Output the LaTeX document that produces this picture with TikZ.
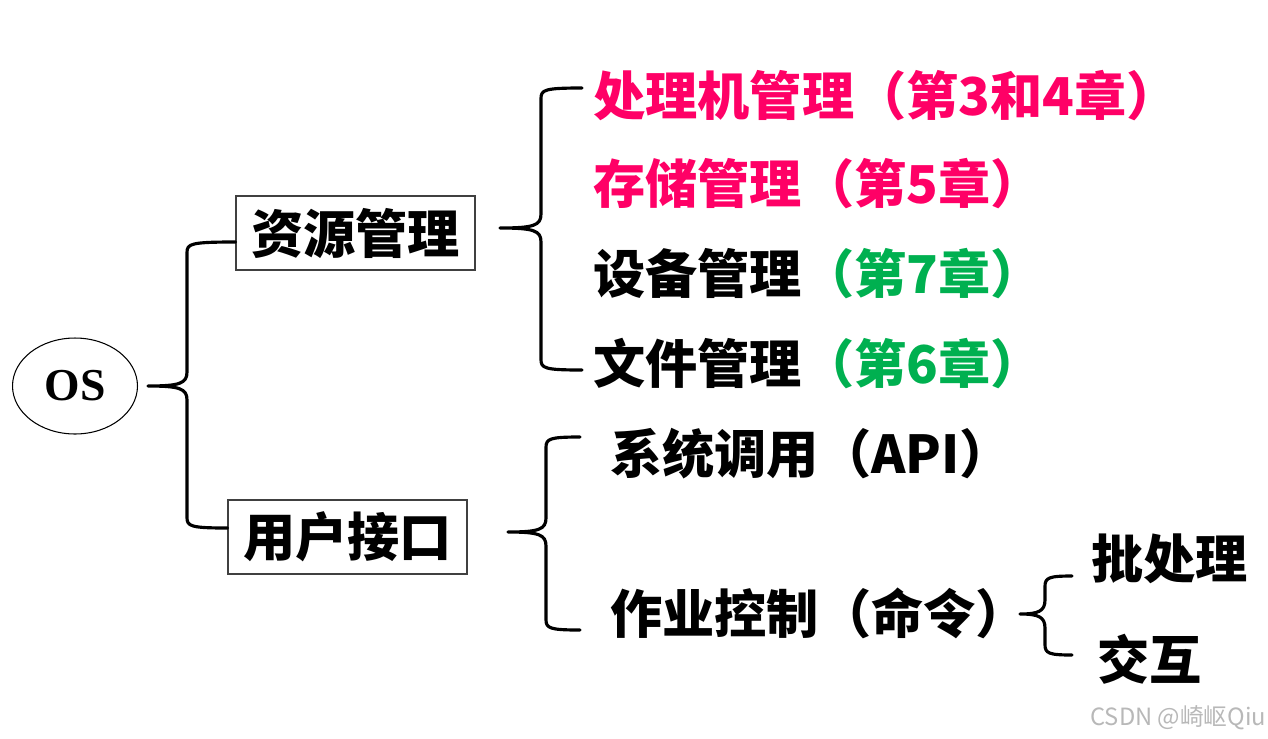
\documentclass[tikz,border=0pt]{standalone}
\usepackage{fontspec}
\setmainfont{Liberation Serif}
\newfontfamily\cjk{Noto Sans CJK SC}
\usetikzlibrary{calc,shapes.geometric}
\definecolor{mag}{RGB}{255,0,102}
\definecolor{grn}{RGB}{0,176,80}
\tikzset{
  brc/.style={line width=1.8pt,line cap=round,line join=round},
  lbl/.style={anchor=west,inner sep=0pt,font=\cjk\bfseries\fontsize{29.7}{34}\selectfont},
  boxed/.style={draw=black!75,line width=0.6pt,minimum width=4.78cm,minimum height=1.48cm,inner sep=0pt,font=\cjk\bfseries\fontsize{29.7}{34}\selectfont},
  ell/.style={ellipse,draw,line width=0.6pt,minimum width=2.5cm,minimum height=1.92cm,inner sep=0pt,font=\bfseries\fontsize{26}{30}\selectfont}
}
\newcommand{\curly}[4]{%
  \draw[brc] let \p1=(#1),\p2=(#2),\p3=(#3),\p4=($(#1)+(#4,0)$) in
    (\p2) .. controls (\x4+2pt,\y2) and (\x4,\y2-1pt) .. (\x4,\y2-6pt)
    -- (\x4,\y1+8pt) .. controls (\x4,\y1+1.5pt) and (\x4-4pt,\y1) .. (\p1)
    .. controls (\x4-4pt,\y1) and (\x4,\y1-1.5pt) .. (\x4,\y1-8pt)
    -- (\x4,\y3+6pt) .. controls (\x4,\y3+1pt) and (\x4+2pt,\y3) .. (\p3);}
\begin{document}
\begin{tikzpicture}[x=0.02cm,y=-0.02cm]
\useasboundingbox (0,0) rectangle (1268,738);
% main nodes
\node[ell] (os) at (75,386) {OS};
\node[boxed] (res) at (355.5,233) {资源管理};
\node[boxed] (ui) at (347.5,537) {用户接口};
% resource management items
\node[lbl,text=mag] (cpu) at (593,96) {处理机管理（第3和4章）};
\node[lbl,text=mag] (mem) at (593,184) {存储管理（第5章）};
\node[lbl] (dev) at (593,274) {设备管理\textcolor{grn}{（第7章）}};
\node[lbl] (file) at (593,364) {文件管理\textcolor{grn}{（第6章）}};
% user interface items
\node[lbl] (api) at (610,454) {系统调用（API）};
\node[lbl] (job) at (610,613) {作业控制（命令）};
\node[lbl] (batch) at (1091,559) {批处理};
\node[lbl] (inter) at (1097,659) {交互};
% brace coordinates
\coordinate (t1) at (148,386);
\coordinate (a1) at (res.west |- 0,242);
\coordinate (b1) at (ui.west |- 0,528);
\coordinate (t2) at (500,228);
\coordinate (a2) at (582,88);
\coordinate (b2) at (582,370);
\coordinate (t3) at (508,532);
\coordinate (a3) at (580,437);
\coordinate (b3) at (580,630);
\coordinate (t4) at (1020,614);
\coordinate (a4) at (1072,576);
\coordinate (b4) at (1072,655);
\curly{t1}{a1}{b1}{39}
\curly{t2}{a2}{b2}{41}
\curly{t3}{a3}{b3}{38}
\curly{t4}{a4}{b4}{25}
% watermark
\node[anchor=west,inner sep=0pt,text=black!28,font=\cjk\fontsize{13.5}{15}\selectfont] (wm) at (1090,718) {CSDN @崎岖Qiu};
\end{tikzpicture}
\end{document}
